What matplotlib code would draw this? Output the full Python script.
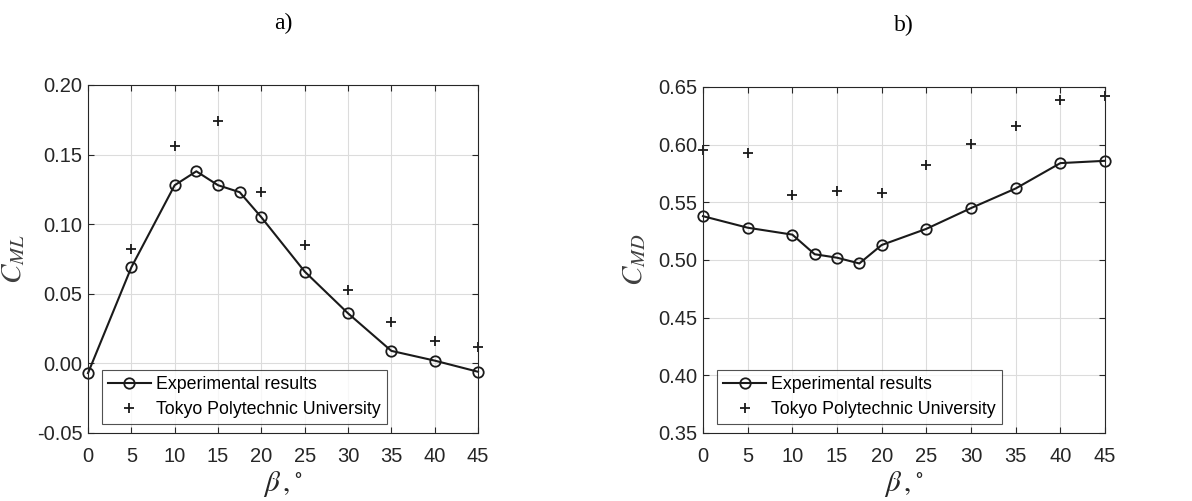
import matplotlib
matplotlib.use('Agg')
import matplotlib.pyplot as plt

plt.rcParams['font.family'] = ['Liberation Sans', 'DejaVu Sans']
plt.rcParams['mathtext.fontset'] = 'stix'

# angle of attack values
beta_exp = [0, 5, 10, 12.5, 15, 17.5, 20, 25, 30, 35, 40, 45]
cml_exp = [-0.007, 0.069, 0.128, 0.138, 0.128, 0.123, 0.105, 0.066, 0.036, 0.009, 0.002, -0.006]
cmd_exp = [0.538, 0.528, 0.522, 0.505, 0.502, 0.497, 0.513, 0.527, 0.545, 0.562, 0.584, 0.586]

beta_tpu_l = [5, 10, 15, 20, 25, 30, 35, 40, 45]
cml_tpu = [0.082, 0.156, 0.174, 0.123, 0.085, 0.053, 0.030, 0.016, 0.012]
beta_tpu_d = [0, 5, 10, 15, 20, 25, 30, 35, 40, 45]
cmd_tpu = [0.595, 0.593, 0.556, 0.560, 0.558, 0.582, 0.601, 0.616, 0.639, 0.642]

xticks = [0, 5, 10, 15, 20, 25, 30, 35, 40, 45]
yticks_l = [-0.05, 0.00, 0.05, 0.10, 0.15, 0.20]
yticks_r = [0.35, 0.40, 0.45, 0.50, 0.55, 0.60, 0.65]

fig = plt.figure(figsize=(11.92, 5.01), dpi=100)
W, H = 1192, 501
ax1 = fig.add_axes([88 / W, 1 - 433 / H, 390 / W, 348 / H])
ax2 = fig.add_axes([703 / W, 1 - 433 / H, 402 / W, 346 / H])


def style(ax, yticks, ylabel, title):
    ax.set_xlim(0, 45)
    ax.set_ylim(yticks[0], yticks[-1])
    ax.set_xticks(xticks)
    ax.set_yticks(yticks)
    ax.set_yticklabels(['%.2f' % v for v in yticks])
    ax.grid(True, color='#dcdcdc', linewidth=0.8)
    ax.set_axisbelow(True)
    ax.tick_params(direction='in', top=True, right=True, labelsize=14.5,
                   colors='#262626', length=4)
    ax.tick_params(axis='x', pad=10)
    ax.tick_params(axis='y', pad=4)
    for s in ax.spines.values():
        s.set_color('#262626')
        s.set_linewidth(0.8)
    ax.set_xlabel(r'$\beta\,,^{\circ}$', fontsize=21, color='#262626', labelpad=2)
    ax.set_ylabel(ylabel, fontsize=21, color='#404040', labelpad=7)
    ax.set_title(title, fontsize=17, family='Liberation Serif', pad=40)
    leg = ax.legend(loc='lower left', bbox_to_anchor=(0.035, 0.025), fontsize=12.8,
                    frameon=True, fancybox=False, edgecolor='#262626',
                    handlelength=2.4, borderpad=0.35, labelspacing=0.45,
                    handletextpad=0.3, borderaxespad=0)
    leg.get_frame().set_linewidth(0.8)


ax1.plot(beta_exp, cml_exp, '-o', color='#1a1a1a', linewidth=1.5,
         markersize=7.5, markerfacecolor='none', markeredgewidth=1.3,
         label='Experimental results', clip_on=False)
ax1.plot(beta_tpu_l, cml_tpu, '+', color='#1a1a1a', markersize=7,
         markeredgewidth=1.3, label='Tokyo Polytechnic University', clip_on=False)
style(ax1, yticks_l, r'$C_{ML}$', 'a)')

ax2.plot(beta_exp, cmd_exp, '-o', color='#1a1a1a', linewidth=1.5,
         markersize=7.5, markerfacecolor='none', markeredgewidth=1.3,
         label='Experimental results', clip_on=False)
ax2.plot(beta_tpu_d, cmd_tpu, '+', color='#1a1a1a', markersize=7,
         markeredgewidth=1.3, label='Tokyo Polytechnic University', clip_on=False)
style(ax2, yticks_r, r'$C_{MD}$', 'b)')

fig.savefig('out.png', dpi=100)
